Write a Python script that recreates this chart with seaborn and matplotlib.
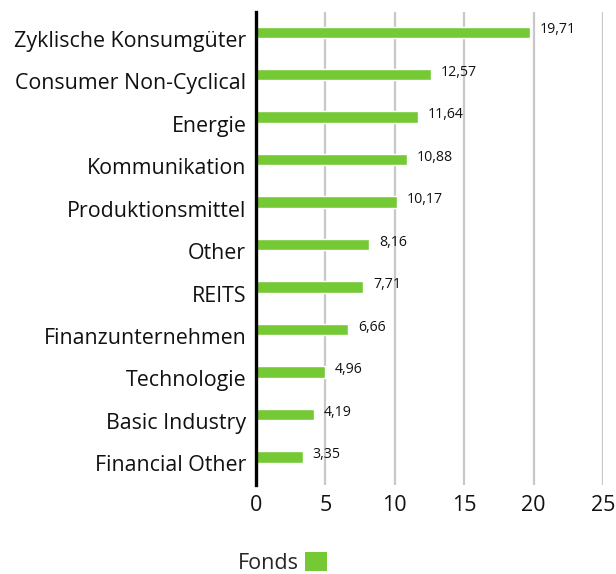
import matplotlib
matplotlib.use("Agg")
import matplotlib.pyplot as plt
import matplotlib.transforms as mtransforms
import seaborn as sns
import pandas as pd
from matplotlib.patches import Patch

categories = [
    "Zyklische Konsumgüter", "Consumer Non-Cyclical", "Energie", "Kommunikation",
    "Produktionsmittel", "Other", "REITS", "Finanzunternehmen", "Technologie",
    "Basic Industry", "Financial Other",
]
values = [19.71, 12.57, 11.64, 10.88, 10.17, 8.16, 7.71, 6.66, 4.96, 4.19, 3.35]
series_name = "Fonds"
x_ticks = [0, 5, 10, 15, 20, 25]

bar_color = "#74c935"
grid_color = "#c8c8c8"

sns.set_theme(style="white")
plt.rcParams["font.family"] = ["Open Sans", "DejaVu Sans"]

df = pd.DataFrame({"Sektor": categories, "Wert": values})

fig = plt.figure(figsize=(6.16, 5.74), dpi=100)
ax = fig.add_axes([0.4156, 0.155, 0.979 - 0.4156, 0.979 - 0.155])

sns.barplot(data=df, y="Sektor", x="Wert", orient="h", color=bar_color,
            width=0.26, saturation=1, ax=ax, zorder=3)

ax.set_xlim(0, 25)
ax.set_ylim(len(categories) - 1 + 0.66, -0.47)
ax.set_xticks(x_ticks)
ax.set_xticklabels([str(t) for t in x_ticks], fontsize=15.5, color="#111111")
ax.tick_params(axis="y", labelsize=15.4, length=0, pad=7, labelcolor="#111111")
ax.tick_params(axis="x", length=0, pad=7)
ax.set_xlabel("")
ax.set_ylabel("")

# category labels sit a little below the bar centres
shift = mtransforms.ScaledTranslation(0, -0.065, fig.dpi_scale_trans)
for lab in ax.get_yticklabels():
    lab.set_transform(lab.get_transform() + shift)

for t in x_ticks[1:]:
    ax.axvline(t, color=grid_color, lw=1.6, zorder=1)

for s in ["top", "right", "bottom"]:
    ax.spines[s].set_visible(False)
ax.spines["left"].set_color("black")
ax.spines["left"].set_linewidth(2.4)
ax.spines["left"].set_zorder(5)

for i, v in enumerate(values):
    ax.text(v + 0.72, i - 0.05, f"{v:.2f}".replace(".", ","), va="center",
            ha="left", fontsize=10.2, color="#111111")

handle = Patch(facecolor=bar_color, edgecolor="none")
fig.legend([handle], [series_name], loc="center", bbox_to_anchor=(0.458, 0.02),
           frameon=False, markerfirst=False, fontsize=15.5, handlelength=1.0,
           handleheight=1.0, handletextpad=0.3, borderpad=0.1)

fig.savefig("out.png", dpi=100)
